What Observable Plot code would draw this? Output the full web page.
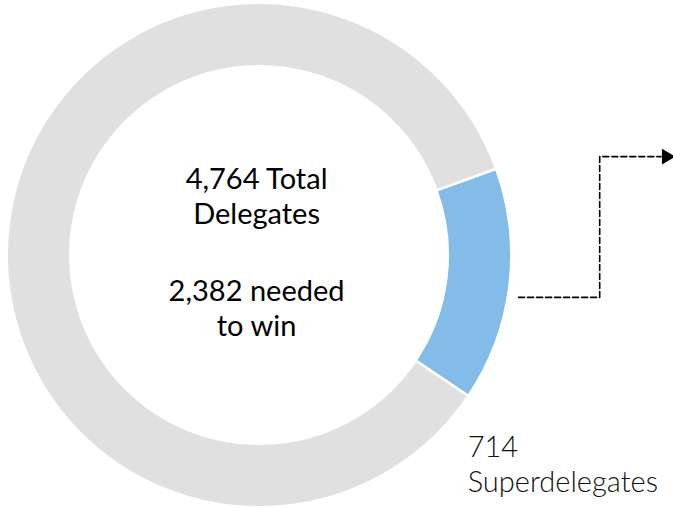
<!DOCTYPE html>
<html>
<head>
<meta charset="utf-8">
<script src="https://cdn.jsdelivr.net/npm/d3@7"></script>
<script src="https://cdn.jsdelivr.net/npm/@observablehq/plot@0.6"></script>
<style>
  html, body { margin: 0; padding: 0; background: #fff; }
  #chart svg { display: block; }
</style>
</head>
<body>
<div id="chart"></div>
<script>
// ---- data ----
const categories = ["Superdelegates", "Other delegates"];
const values = [714, 4050];          // total 4,764
const sliceColors = ["#83BCE8", "#E0E0E0"];
const centerTop = "4,764 Total\nDelegates";
const centerBottom = "2,382 needed\nto win";
const sliceLabel = "714\nSuperdelegates";

// ---- layout (in units of the ring's outer radius, centre at 0,0) ----
const OUTER = 1.005, INNER = 0.752;
const START = 70 * Math.PI / 180;     // clockwise from 12 o'clock
const slices = categories.map((c, i) => ({category: c, value: values[i], color: sliceColors[i]}));

const connector = [
  {x: 1.032, y: -0.167},
  {x: 1.355, y: -0.167},
  {x: 1.355, y: 0.394},
  {x: 1.600, y: 0.394}
];
const arrowHead = [{x: 1.621, y: 0.394}];

function donut(index, scales) {
  const cx = scales.x(0), cy = scales.y(0);
  const k = scales.x(1) - cx;
  const pie = d3.pie().sort(null).value(d => d.value)
    .startAngle(START).endAngle(START + 2 * Math.PI);
  const arc = d3.arc().innerRadius(INNER * k).outerRadius(OUTER * k);
  const g = d3.create("svg:g").attr("transform", `translate(${cx},${cy})`);
  g.selectAll("path").data(pie(slices)).join("path")
    .attr("d", arc)
    .attr("fill", d => d.data.color)
    .attr("stroke", "#fff")
    .attr("stroke-width", 2.5)
    .attr("stroke-linejoin", "miter");
  return g.node();
}

const font = "Lato, 'Open Sans', 'DejaVu Sans', sans-serif";

const chart = Plot.plot({
  width: 673,
  height: 508,
  margin: 0,
  x: {domain: [-1.032, 1.649], axis: null},
  y: {domain: [-1.008, 1.016], axis: null},
  style: {background: "#fff", fontFamily: font},
  marks: [
    donut,
    Plot.text([centerTop], {
      x: () => 0, y: () => 0.1275, text: d => d, dx: -3,
      fontSize: 29, lineHeight: 1.207, lineAnchor: "bottom",
      textAnchor: "middle", fill: "#000"
    }),
    Plot.text([centerBottom], {
      x: () => 0, y: () => -0.319, text: d => d, dx: -3,
      fontSize: 29, lineHeight: 1.207, lineAnchor: "bottom",
      textAnchor: "middle", fill: "#000"
    }),
    Plot.text([sliceLabel], {
      x: () => 0.829, y: () => -0.944, text: d => d,
      fontSize: 29, fontWeight: 300, lineHeight: 1.207, lineAnchor: "bottom",
      textAnchor: "start", fill: "#111"
    }),
    Plot.line(connector, {
      x: "x", y: "y", stroke: "#000", strokeWidth: 1.6,
      strokeDasharray: "6,3", curve: "linear"
    }),
    Plot.dot(arrowHead, {
      x: "x", y: "y", symbol: "triangle", rotate: 90, r: 5.8,
      fill: "#000", stroke: "none"
    })
  ]
});
document.getElementById("chart").appendChild(chart);
</script>
</body>
</html>
